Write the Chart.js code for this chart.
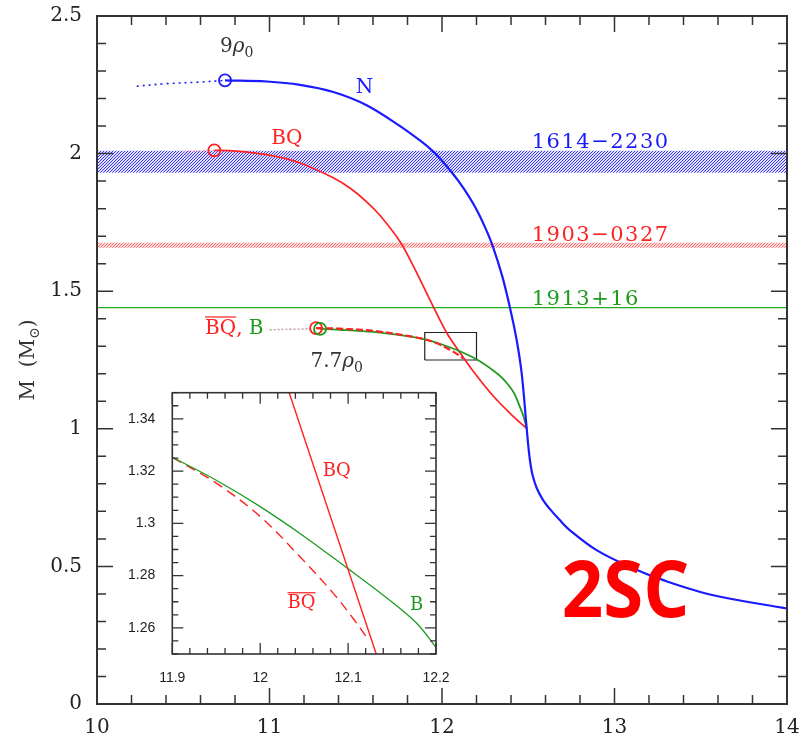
<!DOCTYPE html>
<html>
<head>
<meta charset="utf-8">
<script src="https://cdn.jsdelivr.net/npm/chart.js@4.4.0/dist/chart.umd.min.js"></script>
<style>
  body { margin: 0; background: #fff; }
  #wrap { position: relative; width: 802px; height: 741px; }
  #main { position: absolute; left: 0; top: 0; }
  #inset { position: absolute; left: 100px; top: 380px; }
</style>
</head>
<body>
<div id="wrap">
  <canvas id="main" width="802" height="741"></canvas>
  <canvas id="inset" width="350" height="320"></canvas>
</div>
<script>
// ---- data ----
const nDotX = [10.23, 10.40, 10.60, 10.742];
const nDotY = [2.245, 2.254, 2.260, 2.266];
const nX = [10.742, 10.984, 11.177, 11.370, 11.563, 11.757, 11.880, 11.948, 12.000, 12.056, 12.100, 12.150, 12.200, 12.250, 12.294, 12.350, 12.394, 12.433, 12.462, 12.491, 12.500, 12.510, 12.525, 12.549, 12.585, 12.626, 12.680, 12.742, 12.896, 13.090, 13.283, 13.573, 14.0];
const nY = [2.266, 2.262, 2.250, 2.224, 2.176, 2.100, 2.044, 2.008, 1.974, 1.932, 1.896, 1.850, 1.797, 1.732, 1.664, 1.553, 1.440, 1.322, 1.201, 1.001, 0.940, 0.885, 0.832, 0.785, 0.742, 0.708, 0.670, 0.631, 0.559, 0.498, 0.450, 0.395, 0.347];

const bqDotX = [10.50, 10.60, 10.68];
const bqDotY = [2.006, 2.010, 2.012];
const bqX = [10.680, 10.790, 10.984, 11.177, 11.370, 11.470, 11.563, 11.641, 11.757, 11.834, 11.950, 12.027, 12.104, 12.181, 12.297, 12.413, 12.491];
const bqY = [2.012, 2.010, 1.996, 1.966, 1.912, 1.873, 1.825, 1.775, 1.680, 1.591, 1.443, 1.349, 1.277, 1.209, 1.119, 1.045, 1.001];

const bDotX = [11.00, 11.15, 11.293];
const bDotY = [1.360, 1.362, 1.363];
const bX = [11.293, 11.409, 11.602, 11.795, 11.900, 12.000, 12.100, 12.200, 12.297, 12.350, 12.394, 12.420, 12.452, 12.470, 12.491];
const bY = [1.363, 1.360, 1.352, 1.337, 1.3253, 1.3064, 1.2826, 1.2525, 1.212, 1.184, 1.152, 1.127, 1.079, 1.050, 1.001];

const bqbX = [11.27, 11.40, 11.60, 11.80, 11.90, 11.95, 12.00, 12.045, 12.083, 12.106, 12.123];
const bqbY = [1.366, 1.364, 1.356, 1.338, 1.3253, 1.3154, 1.3026, 1.2873, 1.2733, 1.2635, 1.2555];

const band1614 = [1.93, 2.01];
const band1903 = [1.658, 1.676];
const line1913 = 1.44;

const boxX = [11.9, 12.2, 12.2, 11.9, 11.9];
const boxY = [1.25, 1.25, 1.35, 1.35, 1.25];

const mainXTicks = [10, 11, 12, 13, 14];
const mainYTicks = [0, 0.5, 1, 1.5, 2, 2.5];

// inset (zoom of the box)
const inBX = [11.9, 11.95, 12.0, 12.05, 12.1, 12.14, 12.178, 12.2];
const inBY = [1.3253, 1.3165, 1.3064, 1.2950, 1.2826, 1.2725, 1.2618, 1.2525];
const inBqX = [12.033, 12.132];
const inBqY = [1.35, 1.25];
const inBqbX = [11.9, 11.95, 12.0, 12.045, 12.083, 12.106, 12.123];
const inBqbY = [1.3253, 1.3154, 1.3026, 1.2873, 1.2733, 1.2635, 1.2555];
const insetXTicks = [11.9, 12, 12.1, 12.2];
const insetYTicks = [1.26, 1.28, 1.3, 1.32, 1.34];

// ---- styling ----
const SERIF = '"DejaVu Serif", serif';
const SANS = '"Liberation Sans", Arial, sans-serif';
const BLUE = '#1a1aff', RED = '#ff2020', GREEN = '#1f9a1f', INK = '#333';

const pts = (xs, ys) => xs.map((x, i) => ({ x, y: ys[i] }));
const hline = v => [{ x: 10, y: v }, { x: 14, y: v }];

// diagonal hatch: crisp pixel stripes
function hatch(rgb, gap, soft) {
  const c = document.createElement('canvas');
  c.width = c.height = gap;
  const g = c.getContext('2d');
  g.fillStyle = `rgba(${rgb},${soft})`;
  g.fillRect(0, 0, gap, gap);
  g.fillStyle = `rgb(${rgb})`;
  for (let i = 0; i < gap; i++) g.fillRect(i, gap - 1 - i, 1, 1);
  return g.createPattern(c, 'repeat');
}

const curve = (data, color, width, extra) => Object.assign({
  data, borderColor: color, borderWidth: width, showLine: true,
  pointRadius: 0, tension: 0.35, fill: false
}, extra || {});
const ring = (x, y, color, order) => ({
  data: [{ x, y }], showLine: false, pointRadius: 6, pointStyle: 'circle',
  pointBackgroundColor: 'rgba(0,0,0,0)', pointBorderColor: color, pointBorderWidth: 1.8, order
});

// ticks on all four sides, pointing inwards, plus frame
const tickMarks = {
  id: 'tickMarks',
  afterDatasetsDraw(chart, args, o) {
    const { ctx, chartArea: a, scales } = chart;
    ctx.save();
    ctx.strokeStyle = o.color;
    ctx.lineWidth = o.lineWidth;
    ctx.beginPath();
    for (const ax of ['x', 'y']) {
      const s = scales[ax], st = o[ax];
      const n = Math.round((s.max - s.min) / st.minor);
      for (let i = 0; i <= n; i++) {
        const v = s.min + i * st.minor;
        const r = v / st.major;
        const len = Math.abs(r - Math.round(r)) < 1e-4 ? o.majorLen : o.minorLen;
        const p = s.getPixelForValue(v);
        if (ax === 'x') {
          ctx.moveTo(p, a.bottom); ctx.lineTo(p, a.bottom - len);
          ctx.moveTo(p, a.top); ctx.lineTo(p, a.top + len);
        } else {
          ctx.moveTo(a.left, p); ctx.lineTo(a.left + len, p);
          ctx.moveTo(a.right, p); ctx.lineTo(a.right - len, p);
        }
      }
    }
    ctx.stroke();
    ctx.lineWidth = o.frameWidth;
    ctx.strokeRect(a.left, a.top, a.width, a.height);
    ctx.restore();
  }
};

// rich text: parts drawn side by side, with optional subscript / italic / overline
function drawRich(ctx, parts, x, y, size, align, ls) {
  ctx.letterSpacing = (ls || 0) + 'px';
  const fontOf = p => (p.it ? 'italic ' : '') + (p.sub ? size * 0.7 : size) + 'px ' + SERIF;
  let w = 0;
  for (const p of parts) { ctx.font = fontOf(p); p.w = ctx.measureText(p.t).width; w += p.w; }
  let cx = align === 'left' ? x : x - w / 2;
  ctx.textBaseline = 'alphabetic';
  ctx.textAlign = 'left';
  const base = y + size * 0.36;
  for (const p of parts) {
    ctx.font = fontOf(p);
    ctx.fillStyle = p.c || INK;
    ctx.fillText(p.t, cx, base + (p.sub ? size * 0.25 : 0));
    if (p.over) {
      ctx.strokeStyle = p.c;
      ctx.lineWidth = 1.2;
      ctx.beginPath();
      ctx.moveTo(cx, base - size * 0.86); ctx.lineTo(cx + p.w, base - size * 0.86);
      ctx.stroke();
    }
    cx += p.w;
  }
  ctx.letterSpacing = '0px';
}

const mainNotes = [
  { x: 11.55, y: 2.248, parts: [{ t: 'N', c: BLUE }] },
  { x: 11.10, y: 2.060, parts: [{ t: 'BQ', c: RED }] },
  { x: 10.81, y: 2.394, parts: [{ t: '9' }, { t: 'ρ', it: true }, { t: '0', sub: true }] },
  { x: 11.39, y: 1.249, parts: [{ t: '7.7' }, { t: 'ρ', it: true }, { t: '0', sub: true }] },
  { x: 10.796, y: 1.370, parts: [{ t: 'BQ', c: RED, over: true }, { t: ', ', c: RED }, { t: 'B', c: GREEN }] },
  { x: 12.52, y: 2.048, align: 'left', size: 21, ls: 1.5, parts: [{ t: '1614−2230', c: BLUE }] },
  { x: 12.52, y: 1.710, align: 'left', size: 21, ls: 1.5, parts: [{ t: '1903−0327', c: RED }] },
  { x: 12.52, y: 1.476, align: 'left', size: 21, ls: 1.5, parts: [{ t: '1913+16', c: GREEN }] }
];

const insetNotes = [
  { x: 12.087, y: 1.3205, parts: [{ t: 'BQ', c: RED }] },
  { x: 12.047, y: 1.270, parts: [{ t: 'BQ', c: RED, over: true }] },
  { x: 12.178, y: 1.2695, parts: [{ t: 'B', c: GREEN }] }
];

const notesPlugin = (notes, size) => ({
  id: 'notes',
  afterDraw(chart) {
    const { ctx, scales: { x, y } } = chart;
    ctx.save();
    for (const n of notes) {
      drawRich(ctx, n.parts, x.getPixelForValue(n.x), y.getPixelForValue(n.y), n.size || size, n.align, n.ls);
    }
    ctx.restore();
  }
});

const extrasPlugin = {
  id: 'extras',
  afterDraw(chart) {
    const { ctx, chartArea: a, scales: { x, y } } = chart;
    ctx.save();
    // y axis title  M (M_sun)
    ctx.translate(27, (a.top + a.bottom) / 2);
    ctx.rotate(-Math.PI / 2);
    drawRich(ctx, [{ t: 'M  (M' }, { t: '⊙', sub: true }, { t: ')' }], 0, 0, 20);
    ctx.restore();
    // big 2SC tag
    ctx.save();
    ctx.font = 'bold 78px "Open Sans", "Liberation Sans", sans-serif';
    ctx.fillStyle = '#ff0000';
    ctx.textAlign = 'center';
    ctx.textBaseline = 'alphabetic';
    const px = x.getPixelForValue(13.064), py = y.getPixelForValue(0.316);
    ctx.translate(px, py);
    ctx.scale(0.93, 1);
    ctx.fillText('2SC', 0, 0);
    ctx.restore();
  }
};

const tickFmt = v => String(+v.toFixed(3));
// keep the plot frame where the layout padding puts it (no extra room for overhanging labels)
const noPadX = s => { s.paddingLeft = 0; s.paddingRight = 0; };
const noPadY = s => { s.paddingTop = 0; s.paddingBottom = 0; };

new Chart(document.getElementById('main'), {
  type: 'scatter',
  data: {
    datasets: [
      curve(pts(nX, nY), BLUE, 2.2, { order: 1 }),
      curve(pts(nDotX, nDotY), BLUE, 1.6, { order: 2, borderDash: [2, 4] }),
      ring(10.742, 2.266, BLUE, 0),
      curve(pts(bqbX, bqbY), RED, 2.2, { order: 3, borderDash: [7, 3] }),
      curve(pts(bX, bY), GREEN, 1.8, { order: 4 }),
      curve(pts(bDotX, bDotY), '#c09a9a', 1.4, { order: 5, borderDash: [2, 2] }),
      ring(11.293, 1.363, GREEN, 0),
      ring(11.27, 1.366, RED, 0),
      curve(pts(bqX, bqY), RED, 1.7, { order: 6 }),
      curve(pts(bqDotX, bqDotY), '#ff9090', 1.4, { order: 7, borderDash: [2, 3] }),
      ring(10.68, 2.012, RED, 0),
      curve(pts(boxX, boxY), '#222', 1.2, { order: 8, tension: 0 }),
      curve(hline(line1913), '#22aa22', 1.2, { order: 9, tension: 0 }),
      curve(hline(band1903[0]), 'rgba(0,0,0,0)', 0, { order: 20, tension: 0 }),
      curve(hline(band1903[1]), 'rgba(0,0,0,0)', 0, { order: 20, tension: 0, fill: '-1', backgroundColor: hatch('255,110,110', 3, 0.25) }),
      curve(hline(band1614[0]), 'rgba(0,0,0,0)', 0, { order: 20, tension: 0 }),
      curve(hline(band1614[1]), 'rgba(0,0,0,0)', 0, { order: 20, tension: 0, fill: '-1', backgroundColor: hatch('55,55,255', 3, 0.15) })
    ]
  },
  options: {
    responsive: false,
    animation: false,
    devicePixelRatio: 1,
    layout: { padding: { top: 16, right: 15, left: 0, bottom: 0 } },
    plugins: {
      legend: { display: false },
      tooltip: { enabled: false },
      tickMarks: { color: '#333', lineWidth: 1.5, frameWidth: 2, majorLen: 16, minorLen: 9,
        x: { major: 1, minor: 0.2 }, y: { major: 0.5, minor: 0.1 } }
    },
    scales: {
      x: {
        type: 'linear', min: 10, max: 14,
        grid: { display: false, drawTicks: false }, border: { display: false },
        afterBuildTicks: s => { s.ticks = mainXTicks.map(v => ({ value: v })); },
        afterFit: s => { s.height = 37; noPadX(s); },
        ticks: { color: '#222', padding: 12, maxRotation: 0, font: { family: SERIF, size: 20 }, callback: tickFmt }
      },
      y: {
        type: 'linear', min: 0, max: 2.5,
        grid: { display: false, drawTicks: false }, border: { display: false },
        afterBuildTicks: s => { s.ticks = mainYTicks.map(v => ({ value: v })); },
        afterFit: s => { s.width = 97; noPadY(s); },
        ticks: { color: '#222', padding: 15, font: { family: SERIF, size: 20 }, callback: tickFmt }
      }
    }
  },
  plugins: [tickMarks, notesPlugin(mainNotes, 20), extrasPlugin]
});

const whiteBg = {
  id: 'whiteBg',
  beforeDraw(chart) {
    const { ctx, chartArea: a } = chart;
    ctx.save();
    ctx.fillStyle = '#fff';
    ctx.fillRect(a.left, a.top, a.width, a.height);
    ctx.restore();
  }
};

new Chart(document.getElementById('inset'), {
  type: 'scatter',
  data: {
    datasets: [
      curve(pts(inBqX, inBqY), RED, 1.4, { order: 1, tension: 0 }),
      curve(pts(inBX, inBY), GREEN, 1.3, { order: 2 }),
      curve(pts(inBqbX, inBqbY), RED, 1.4, { order: 3, borderDash: [10, 6] })
    ]
  },
  options: {
    responsive: false,
    animation: false,
    devicePixelRatio: 1,
    layout: { padding: { top: 12.7, right: 14, left: 0, bottom: 0 } },
    plugins: {
      legend: { display: false },
      tooltip: { enabled: false },
      tickMarks: { color: '#333', lineWidth: 1.3, frameWidth: 1.6, majorLen: 11, minorLen: 6,
        x: { major: 0.1, minor: 0.02 }, y: { major: 0.02, minor: 0.005 } }
    },
    scales: {
      x: {
        type: 'linear', min: 11.9, max: 12.2,
        grid: { display: false, drawTicks: false }, border: { display: false },
        afterBuildTicks: s => { s.ticks = insetXTicks.map(v => ({ value: v })); },
        afterFit: s => { s.height = 46; noPadX(s); },
        ticks: { color: '#222', padding: 16, maxRotation: 0, font: { family: SANS, size: 14 }, callback: tickFmt }
      },
      y: {
        type: 'linear', min: 1.25, max: 1.35,
        grid: { display: false, drawTicks: false }, border: { display: false },
        afterBuildTicks: s => { s.ticks = insetYTicks.map(v => ({ value: v })); },
        afterFit: s => { s.width = 72.3; noPadY(s); },
        ticks: { color: '#222', padding: 17, font: { family: SANS, size: 14 }, callback: tickFmt }
      }
    }
  },
  plugins: [whiteBg, tickMarks, notesPlugin(insetNotes, 18)]
});
</script>
</body>
</html>
